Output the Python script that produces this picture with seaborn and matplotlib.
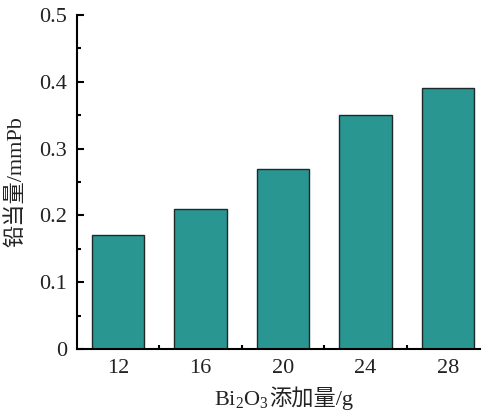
import matplotlib
matplotlib.use("Agg")
import matplotlib.pyplot as plt
import seaborn as sns
from matplotlib.ticker import MultipleLocator, FixedLocator
from matplotlib.offsetbox import TextArea, HPacker, AnnotationBbox

categories = ["12", "16", "20", "24", "28"]
values = [0.17, 0.21, 0.27, 0.35, 0.39]
yticks = [0, 0.1, 0.2, 0.3, 0.4, 0.5]
ytick_labels = ["0", "0.1", "0.2", "0.3", "0.4", "0.5"]

sns.set_style("ticks")
plt.rcParams['font.family'] = ['Liberation Serif', 'Noto Sans CJK SC']
plt.rcParams['mathtext.fontset'] = 'custom'
plt.rcParams['mathtext.rm'] = 'Liberation Serif'
plt.rcParams['mathtext.it'] = 'Liberation Serif'

FS = 16
fig = plt.figure(figsize=(4.83, 4.13), dpi=100)
ax = fig.add_axes([0.159, 0.155, 0.835, 0.809])

sns.barplot(x=categories, y=values, color="#2A9692", saturation=1,
            edgecolor="#1e2a2a", linewidth=1.0, width=0.64, ax=ax)

ax.set_xlim(-0.5, 4.39)
ax.set_ylim(0, 0.5)
ax.set_yticks(yticks)
ax.set_yticklabels(ytick_labels)
ax.yaxis.set_minor_locator(MultipleLocator(0.05))
ax.xaxis.set_minor_locator(FixedLocator([0.5, 1.5, 2.5, 3.5]))

for s in ["top", "right"]:
    ax.spines[s].set_visible(False)
for s in ["left", "bottom"]:
    ax.spines[s].set_linewidth(1.5)
    ax.spines[s].set_color("black")

ax.tick_params(which="major", direction="in", length=5, width=1.5, labelsize=FS, colors="black", pad=7)
ax.tick_params(which="minor", direction="in", length=3, width=1.5, colors="black")
for lab in ax.get_xticklabels() + ax.get_yticklabels():
    lab.set_color("#222222")

ax.set_ylabel("铅当量/mmPb", fontsize=FS, color="#222222", labelpad=9)
ax.set_xlabel("")

t1 = TextArea("Bi$_2$O$_3$", textprops=dict(fontsize=FS, color="#222222"))
t2 = TextArea("添加量/g", textprops=dict(fontsize=FS, color="#222222",
                                         family=['Liberation Serif', 'Noto Sans CJK SC']))
pack = HPacker(children=[t1, t2], align="baseline", pad=0, sep=0)
ab = AnnotationBbox(pack, (0.513, -0.147), xycoords="axes fraction", frameon=False,
                    box_alignment=(0.5, 0.5), pad=0)
ax.add_artist(ab)

fig.savefig("out.png", dpi=100)
